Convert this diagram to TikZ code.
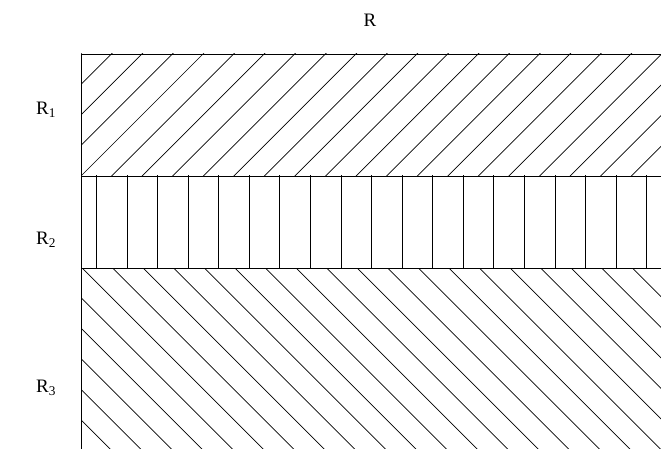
\documentclass[tikz,border=0pt]{standalone}
\usepackage{fontspec}
\setmainfont{Liberation Serif}
\begin{document}
\begin{tikzpicture}[x=1pt,y=-1pt,
  hatch/.style={line width=0.7pt},
  edge/.style={line width=0.9pt},
  lab/.style={font=\fontsize{19}{22}\selectfont, inner sep=0pt}]
\useasboundingbox (0,0) rectangle (661,449);
% band R1: north east lines
\begin{scope}
  \clip (81,54) rectangle (662,176);
  \foreach \k in {-20,...,5} {
    \pgfmathsetmacro\c{257-30.57*\k}
    \draw[hatch] ({\c-180},180) -- ({\c-50},50);
  }
\end{scope}
% band R2: vertical lines
\begin{scope}
  \clip (81,176) rectangle (662,268);
  \foreach \k in {0,...,19} {
    \pgfmathsetmacro\xx{96.3+30.57*\k}
    \draw[hatch] (\xx,170) -- (\xx,275);
  }
\end{scope}
% band R3: north west lines
\begin{scope}
  \clip (81,268) rectangle (662,450);
  \foreach \k in {-6,...,21} {
    \pgfmathsetmacro\c{-242+30.57*\k}
    \draw[hatch] (70,{\c+70}) -- (670,{\c+670});
  }
\end{scope}
% borders
\draw[edge] (662,54) -- (81,54) -- (81,450);
\draw[edge] (81,176) -- (662,176);
\draw[edge] (81,268) -- (662,268);
% labels
\node[lab] (r) at (370,20) {R};
\node[lab] (r1) at (46,110) {R\textsubscript{1}};
\node[lab] (r2) at (46,240) {R\textsubscript{2}};
\node[lab] (r3) at (46,388) {R\textsubscript{3}};
\end{tikzpicture}
\end{document}
